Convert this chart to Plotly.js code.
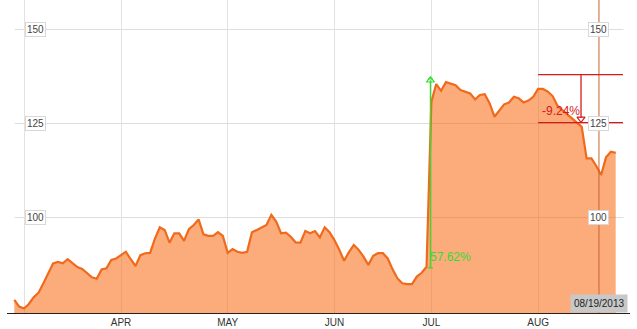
<!DOCTYPE html>
<html>
<head>
<meta charset="utf-8">
<script src="https://cdn.plot.ly/plotly-3.0.1.min.js"></script>
<style>html,body{margin:0;padding:0;background:#fff;}#chart{width:637px;height:329px;}</style>
</head>
<body>
<div id="chart"></div>
<script>
// trading-day index (0 = first trading day of March 2013)
const startIndex = -2;
const prices = [
  78.1, 76.3, 75.8, 77.0, 78.8, 80.0, 82.5, 85.0, 87.8, 88.2,
  87.8, 88.9, 87.8, 86.8, 86.3, 85.2, 84.1, 83.7, 86.2, 86.5,
  88.7, 89.1, 90.0, 90.9, 88.9, 87.1, 90.0, 90.5, 90.6, 94.4,
  97.4, 96.7, 93.3, 95.8, 95.8, 93.8, 96.9, 98.0, 99.5, 95.5,
  95.1, 95.1, 96.1, 95.1, 90.6, 91.6, 90.9, 90.6, 90.9, 96.1,
  96.7, 97.4, 98.0, 100.7, 98.9, 95.8, 96.0, 94.9, 93.4, 93.3,
  96.4, 95.8, 96.4, 94.7, 97.4, 96.1, 94.0, 91.4, 88.5, 90.8,
  92.7, 91.4, 89.6, 87.4, 89.8, 90.5, 90.5, 89.1, 86.2, 83.8,
  82.5, 82.3, 82.3, 84.3, 85.3, 86.9, 130.8, 135.5, 133.7, 136.0,
  135.7, 135.2, 133.9, 133.4, 133.0, 131.4, 132.6, 132.8, 130.4, 126.8,
  128.6, 130.1, 130.6, 132.1, 131.7, 130.6, 131.1, 132.1, 134.2, 134.2,
  133.5, 132.3, 129.7, 128.6, 127.3, 126.4, 125.2, 124.1, 115.7, 115.7,
  113.7, 111.3, 116.0, 117.5, 117.2
];
const monthTickIdx = [0, 20, 42, 64, 84, 106];
const monthLabels = ['', 'APR', 'MAY', 'JUN', 'JUL', 'AUG'];
const yGridVals = [100, 125, 150];
const yGridLabels = ['100', '125', '150'];
const cursorDate = '08/19/2013';
const cursorIdx = 118;
// measurement tools
const upMeasure = {idx: 83.8, low: 86.6, high: 136.5, label: '57.62%'};
const downMeasure = {idxFrom: 106, idxTo: 123.5, idxBar: 114.85, high: 138.0, low: 125.25, label: '-9.24%'};

const x = prices.map((_, k) => startIndex + k);
const cursorX = cursorIdx + 0.55;

const traces = [{
  x: x, y: prices, type: 'scatter', mode: 'lines',
  line: {color: '#f06a1c', width: 2.2},
  fill: 'tozeroy', fillcolor: 'rgba(250,100,12,0.54)',
  hoverinfo: 'skip'
}, {
  x: [upMeasure.idx], y: [upMeasure.high], type: 'scatter', mode: 'markers',
  marker: {symbol: 'triangle-up-open', size: 7, color: '#33dd33', line: {width: 1.2, color: '#33dd33'}},
  hoverinfo: 'skip'
}, {
  x: [downMeasure.idxBar], y: [downMeasure.low + 1.0], type: 'scatter', mode: 'markers',
  marker: {symbol: 'triangle-down-open', size: 7, color: '#d61a1a', line: {width: 1.2, color: '#d61a1a'}},
  hoverinfo: 'skip'
}];

const shapes = [];
yGridVals.forEach(v => shapes.push({type: 'line', layer: 'below', xref: 'x', yref: 'y',
  x0: -1.9, x1: 123.6, y0: v, y1: v, line: {color: '#dddddd', width: 1}}));
// cursor line
shapes.push({type: 'line', xref: 'x', yref: 'paper', x0: cursorX, x1: cursorX, y0: 0, y1: 1,
  line: {color: '#c8642e', width: 1}});
// green measure
shapes.push({type: 'line', xref: 'x', yref: 'y', x0: upMeasure.idx, x1: upMeasure.idx,
  y0: upMeasure.low, y1: upMeasure.high, line: {color: '#33dd33', width: 1.3}});
shapes.push({type: 'line', xref: 'x', yref: 'y', x0: upMeasure.idx - 0.5, x1: upMeasure.idx + 0.5,
  y0: upMeasure.low, y1: upMeasure.low, line: {color: '#33dd33', width: 1.3}});
shapes.push({type: 'line', xref: 'x', yref: 'y', x0: upMeasure.idx - 0.5, x1: upMeasure.idx + 0.5,
  y0: upMeasure.high + 0.4, y1: upMeasure.high + 0.4, line: {color: '#33dd33', width: 1.3}});
// red measure
shapes.push({type: 'line', xref: 'x', yref: 'y', x0: downMeasure.idxFrom, x1: downMeasure.idxTo,
  y0: downMeasure.high, y1: downMeasure.high, line: {color: '#d61a1a', width: 1.3}});
shapes.push({type: 'line', xref: 'x', yref: 'y', x0: downMeasure.idxFrom, x1: downMeasure.idxTo,
  y0: downMeasure.low, y1: downMeasure.low, line: {color: '#d61a1a', width: 1.3}});
shapes.push({type: 'line', xref: 'x', yref: 'y', x0: downMeasure.idxBar, x1: downMeasure.idxBar,
  y0: downMeasure.high, y1: downMeasure.low + 1.2, line: {color: '#d61a1a', width: 1.3}});

const annotations = [];
yGridVals.forEach((v, k) => {
  annotations.push({xref: 'x', yref: 'y', x: 0.2, y: v, xanchor: 'left', yanchor: 'middle',
    text: yGridLabels[k], showarrow: false, bgcolor: '#ffffff', bordercolor: '#d8d8d8', borderwidth: 1, borderpad: 1,
    font: {family: 'Liberation Sans, Arial, sans-serif', size: 10, color: '#444'}});
  annotations.push({xref: 'x', yref: 'y', x: cursorX, y: v, xanchor: 'center', yanchor: 'middle',
    text: yGridLabels[k], showarrow: false, bgcolor: '#ffffff', bordercolor: '#d8d8d8', borderwidth: 1, borderpad: 1,
    font: {family: 'Liberation Sans, Arial, sans-serif', size: 10, color: '#444'}});
});
annotations.push({xref: 'x', yref: 'paper', x: cursorX, y: 0, xanchor: 'center', yanchor: 'bottom',
  text: cursorDate, showarrow: false, bgcolor: '#c8c8c8', borderpad: 3,
  font: {family: 'Liberation Sans, Arial, sans-serif', size: 10, color: '#222'}});
annotations.push({xref: 'x', yref: 'y', x: upMeasure.idx - 0.4, y: 89.6, xanchor: 'left', yanchor: 'middle',
  text: upMeasure.label, showarrow: false,
  font: {family: 'Liberation Sans, Arial, sans-serif', size: 12, color: '#33dd33'}});
annotations.push({xref: 'x', yref: 'y', x: downMeasure.idxFrom + 0.3, y: 128.4, xanchor: 'left', yanchor: 'middle',
  text: downMeasure.label, showarrow: false,
  font: {family: 'Liberation Sans, Arial, sans-serif', size: 12, color: '#d61a1a'}});

const layout = {
  width: 637, height: 329,
  margin: {l: 7, r: 7, t: 0, b: 16, pad: 0},
  paper_bgcolor: '#ffffff', plot_bgcolor: '#ffffff',
  showlegend: false,
  xaxis: {
    range: [-3.505, 124.95], tickmode: 'array', tickvals: monthTickIdx, ticktext: monthLabels,
    showgrid: true, gridcolor: '#e2e2e2', gridwidth: 1, zeroline: false,
    showline: true, linecolor: '#222', linewidth: 1.2, ticks: '',
    tickfont: {family: 'Liberation Sans, Arial, sans-serif', size: 10, color: '#333'},
    fixedrange: true
  },
  yaxis: {
    range: [74.6, 157.85], showgrid: false, zeroline: false, showticklabels: false,
    showline: false, ticks: '', fixedrange: true
  },
  shapes: shapes,
  annotations: annotations
};

Plotly.newPlot('chart', traces, layout, {displayModeBar: false, staticPlot: true});
</script>
</body>
</html>
